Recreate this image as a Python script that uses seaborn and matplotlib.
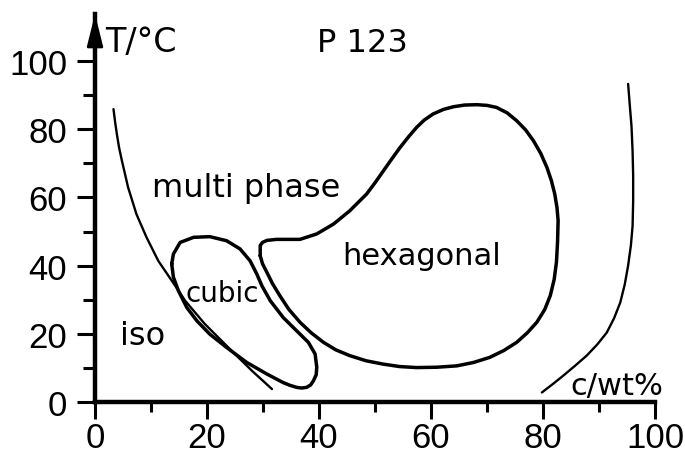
import matplotlib
matplotlib.use("Agg")
import matplotlib.pyplot as plt
import seaborn as sns

# phase boundaries of P123 / water (c in wt%, T in degC)
iso_c = [3.3, 3.6, 3.9, 4.3, 4.8, 5.9, 7.4, 9.2, 11.3, 13.7, 16.1, 19.6, 23.8, 28.0, 31.6]
iso_T = [85.9, 82.0, 78.6, 74.6, 70.8, 63.0, 55.1, 48.3, 41.4, 35.6, 29.7, 22.9, 16.0, 9.2, 3.8]

cubic_c = [13.7, 14.0, 15.2, 17.6, 20.5, 23.5, 25.9, 27.7, 28.9, 29.8, 31.3, 33.6,
           36.0, 38.1, 39.3, 39.6, 39.5, 39.0, 38.5, 37.8, 36.9, 36.0, 34.8, 33.6,
           30.7, 27.1, 23.5, 20.5, 18.2, 16.4, 14.9, 14.0, 13.7]
cubic_T = [40.5, 43.4, 46.8, 48.3, 48.5, 47.3, 44.9, 41.4, 37.5, 34.1, 29.7, 24.8,
           20.9, 17.5, 14.1, 10.2, 8.0, 6.2, 5.0, 4.3, 4.1, 4.3, 4.9, 5.7,
           8.2, 11.6, 16.0, 19.9, 23.8, 27.7, 32.6, 36.6, 40.5]

hex_c = [29.5, 29.5, 29.9, 30.7, 32.4, 36.6, 39.6, 42.6, 45.5, 48.5, 50.0, 51.5,
         53.0, 54.5, 56.0, 57.4, 58.8, 60.4, 62.2, 64.0, 66.0, 68.2, 70.0, 71.7,
         73.6, 75.3, 76.9, 78.3, 79.6, 80.7, 81.5, 82.1, 82.5, 82.7, 82.6, 82.4,
         82.0, 81.3, 80.3, 78.9, 77.2, 75.3, 73.0, 70.5, 67.6, 64.6, 61.0, 57.4,
         54.4, 51.5, 48.4, 45.5, 43.0, 40.8, 38.6, 36.6, 34.6, 33.0, 31.7, 30.7,
         29.9, 29.5]
hex_T = [42.9, 45.9, 46.8, 47.4, 47.7, 47.7, 49.3, 52.2, 56.1, 61.0, 64.3, 67.8,
         71.3, 74.7, 77.8, 80.5, 82.7, 84.5, 85.8, 86.6, 87.1, 87.2, 87.0, 86.4,
         84.8, 82.5, 79.8, 76.6, 72.9, 68.8, 64.9, 61.0, 57.0, 53.2, 47.0, 41.0,
         36.0, 31.2, 27.1, 23.4, 20.3, 17.5, 15.1, 13.1, 11.6, 10.6, 10.2, 10.1,
         10.4, 11.1, 12.1, 13.6, 15.3, 17.5, 20.3, 23.4, 27.2, 31.2, 34.7, 38.0,
         40.6, 42.9]

right_c = [95.2, 95.5, 95.8, 96.0, 96.1, 96.1, 96.0, 95.7, 95.2, 94.6, 93.8, 92.7,
           91.4, 89.7, 87.8, 85.7, 83.6, 81.7, 79.8]
right_T = [93.3, 87.0, 81.0, 73.5, 66.4, 59.0, 51.7, 46.0, 40.0, 34.5, 29.2, 24.6,
           20.4, 16.9, 13.6, 10.6, 7.7, 5.2, 2.8]

major_ticks = [0, 20, 40, 60, 80, 100]
minor_ticks = [10, 30, 50, 70, 90]

sns.set_theme(style="white")
plt.rcParams['font.family'] = ['DejaVu Sans']
plt.rcParams['text.color'] = 'black'
plt.rcParams['xtick.color'] = 'black'
plt.rcParams['ytick.color'] = 'black'

fig = plt.figure(figsize=(6.85, 4.56), dpi=100)
ax = fig.add_axes([0.1387, 0.1162, 0.8175, 0.8509])

line_kw = dict(sort=False, estimator=None, color="black", ax=ax,
               solid_joinstyle="round", solid_capstyle="round")
sns.lineplot(x=iso_c, y=iso_T, lw=1.7, **line_kw)
sns.lineplot(x=cubic_c, y=cubic_T, lw=2.5, **line_kw)
sns.lineplot(x=hex_c, y=hex_T, lw=2.5, **line_kw)
sns.lineplot(x=right_c, y=right_T, lw=1.7, **line_kw)

ax.set_xlim(0, 100)
ax.set_ylim(0, 113.8)
ax.set_xticks(major_ticks)
ax.set_yticks(major_ticks)
ax.set_xticks(minor_ticks, minor=True)
ax.set_yticks(minor_ticks, minor=True)

for side in ["top", "right"]:
    ax.spines[side].set_visible(False)
for side in ["left", "bottom"]:
    ax.spines[side].set_linewidth(3.2)
    ax.spines[side].set_color("black")

ax.tick_params(which="both", bottom=True, left=True, top=False, right=False)
ax.tick_params(axis="x", which="major", direction="out", length=12, width=2.2,
               pad=2, labelsize=25)
ax.tick_params(axis="x", which="minor", direction="out", length=7, width=2.2)
ax.tick_params(axis="y", which="major", direction="out", length=13, width=2.2,
               pad=7, labelsize=25)
ax.tick_params(axis="y", which="minor", direction="out", length=9, width=2.2)
tick_font = ['Liberation Sans Narrow', 'Liberation Sans', 'DejaVu Sans']
for lab in ax.get_xticklabels() + ax.get_yticklabels():
    lab.set_family(tick_font)
    lab.set_color("black")

# arrow head on the T axis
ax.annotate("", xy=(0, 1.0), xytext=(0, 0.95), xycoords="axes fraction",
            arrowprops=dict(arrowstyle="-|>,head_length=1.4,head_width=0.35",
                            color="black", lw=2, mutation_scale=14,
                            shrinkA=0, shrinkB=0))

ax.text(1.8, 102.9, "T/°C", fontsize=24, va="baseline", ha="left")
ax.text(39.6, 102.9, "P 123", fontsize=23, va="baseline", ha="left")
ax.text(10.2, 60.4, "multi phase", fontsize=23, va="baseline", ha="left")
ax.text(44.1, 40.5, "hexagonal", fontsize=22, va="baseline", ha="left")
ax.text(16.1, 29.6, "cubic", fontsize=20, va="baseline", ha="left")
ax.text(4.5, 17.0, "iso", fontsize=23, va="baseline", ha="left")
ax.text(84.8, 2.3, "c/wt%", fontsize=22, va="baseline", ha="left")

fig.savefig("out.png", dpi=100)
